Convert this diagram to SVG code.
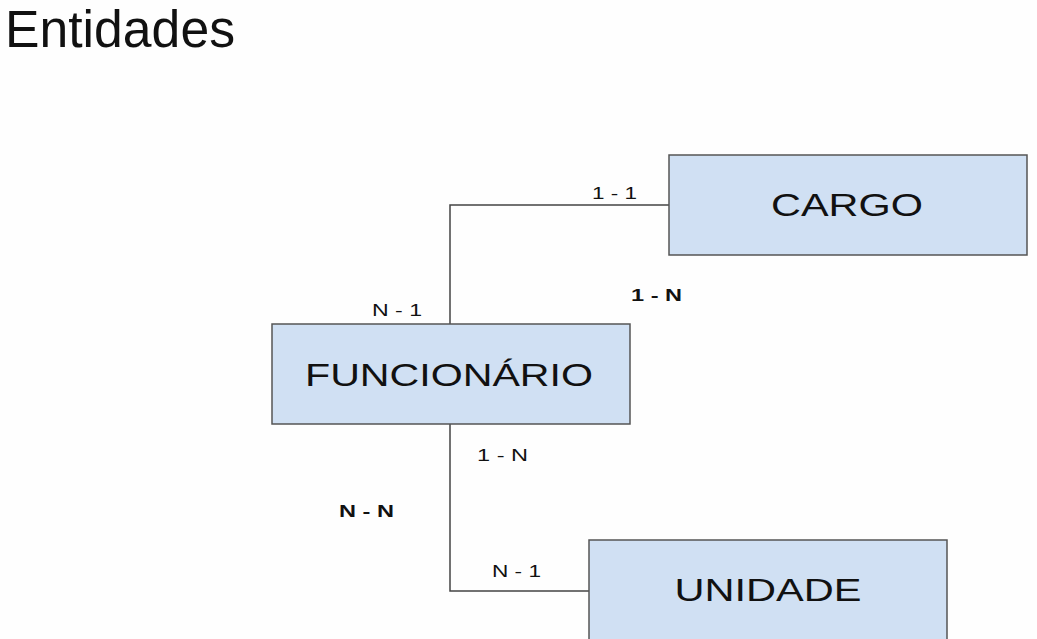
<svg xmlns="http://www.w3.org/2000/svg" width="1037" height="639" viewBox="0 0 1037 639">
<style>
.bg{fill:#fefefe}
.box{fill:#d0e0f3;stroke:#555;stroke-width:1.5}
.name{font-family:"Liberation Sans",Arial,sans-serif;font-size:32px;fill:#111;text-anchor:middle}
.lbl{font-family:"Liberation Sans",Arial,sans-serif;font-size:17px;fill:#111}
.bold{font-weight:bold}
.conn{fill:none;stroke:#444;stroke-width:1.5}
.title{font-family:"Liberation Sans",Arial,sans-serif;font-size:51px;fill:#111}
</style>
<rect class="bg" x="0" y="0" width="1037" height="639"/>
<text class="title" x="5" y="47" textLength="230" lengthAdjust="spacingAndGlyphs">Entidades</text>
<g id="connectors">
<polyline class="conn" points="669,205 450,205 450,324"/>
<polyline class="conn" points="450,424 450,591 589,591"/>
</g>
<g id="cargo">
<rect class="box" x="669" y="155" width="358" height="100"/>
<text class="name" x="847" y="216" textLength="152" lengthAdjust="spacingAndGlyphs">CARGO</text>
</g>
<g id="funcionario">
<rect class="box" x="272" y="324" width="358" height="100"/>
<text class="name" x="449" y="386" textLength="288" lengthAdjust="spacingAndGlyphs">FUNCIONÁRIO</text>
</g>
<g id="unidade">
<rect class="box" x="589" y="540" width="358" height="110"/>
<text class="name" x="768" y="601" textLength="187" lengthAdjust="spacingAndGlyphs">UNIDADE</text>
</g>
<g id="labels">
<text class="lbl" x="592" y="199" textLength="45" lengthAdjust="spacingAndGlyphs">1 - 1</text>
<text class="lbl bold" x="631" y="301" textLength="51" lengthAdjust="spacingAndGlyphs">1 - N</text>
<text class="lbl" x="372" y="316" textLength="50" lengthAdjust="spacingAndGlyphs">N - 1</text>
<text class="lbl" x="477" y="461" textLength="51" lengthAdjust="spacingAndGlyphs">1 - N</text>
<text class="lbl bold" x="339" y="517" textLength="55" lengthAdjust="spacingAndGlyphs">N - N</text>
<text class="lbl" x="492" y="577" textLength="49" lengthAdjust="spacingAndGlyphs">N - 1</text>
</g>
</svg>
